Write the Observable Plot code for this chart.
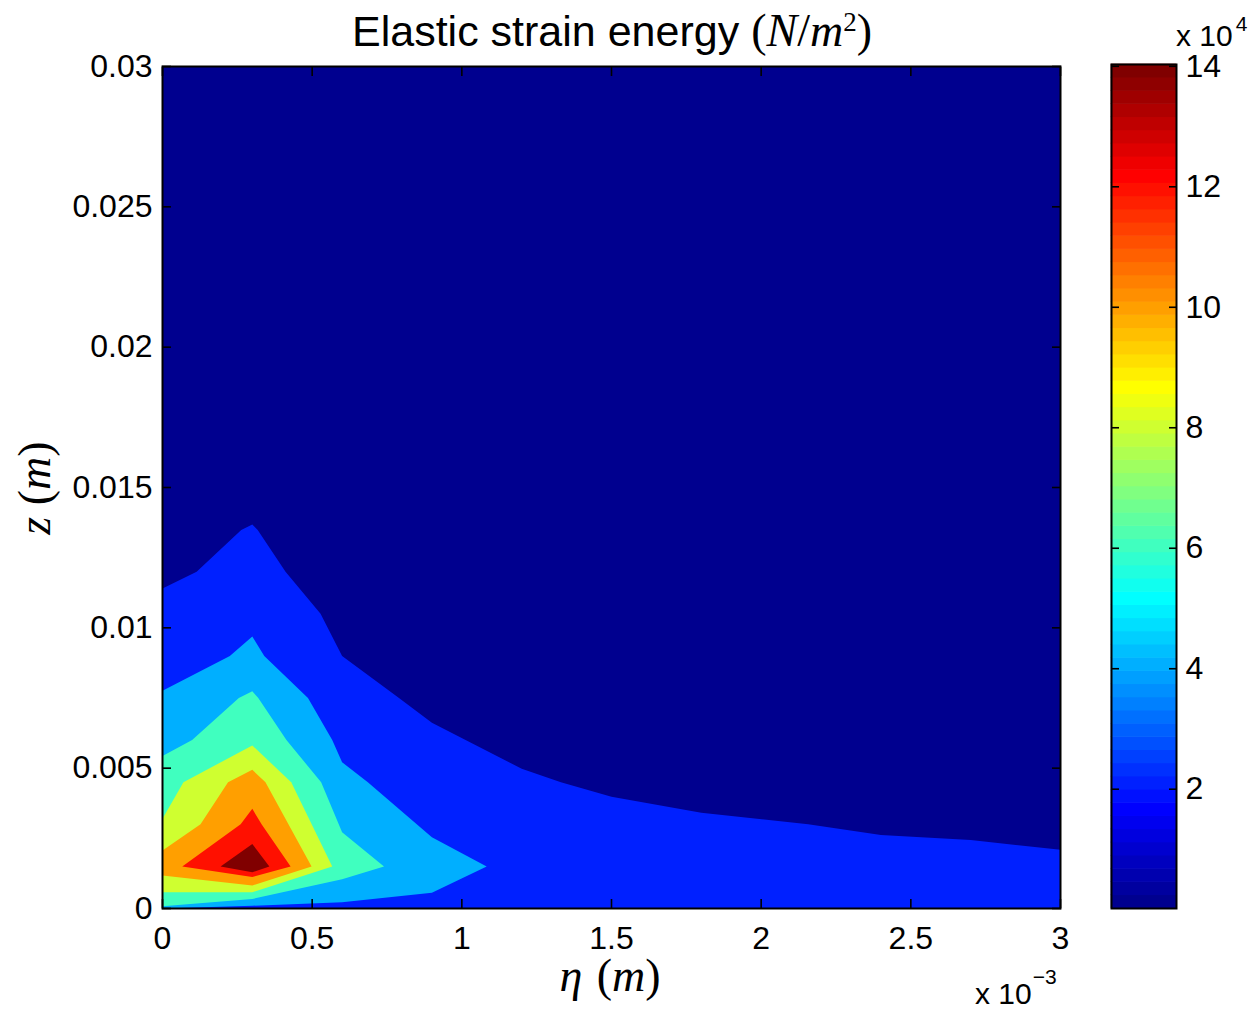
<!DOCTYPE html>
<html><head><meta charset="utf-8">
<script src="https://cdn.jsdelivr.net/npm/d3@7"></script>
<script src="https://cdn.jsdelivr.net/npm/@observablehq/plot@0.6"></script>
<style>
body{margin:0;background:#fff}
#wrap{position:relative;width:1255px;height:1009px;overflow:hidden;background:#fff}
#wrap svg{position:absolute;top:0}
</style>
</head><body><div id="wrap"></div>
<script>
// ---- axis ticks ----
const xTicks = [0, 0.5, 1, 1.5, 2, 2.5, 3];              // eta, x 10^-3 m
const yTicks = [0, 0.005, 0.01, 0.015, 0.02, 0.025, 0.03]; // z, m
const cbarTicks = [20000, 40000, 60000, 80000, 100000, 120000, 140000];

// ---- contour levels (N/m^2) ----
const cmin = 200, cmax = 140300;
const levels = [200, 20214, 40229, 60243, 80257, 100271, 120286, 140300];

// ---- filled contour regions: [eta (x10^-3 m), z (m)] boundary vertices ----
const band0 = [[0, 0], [3, 0], [3, 0.03], [0, 0.03]];
const band1 = [[0, 0.0114], [0.114, 0.0120], [0.263, 0.01349], [0.300, 0.01368], [0.318, 0.01349],
  [0.411, 0.0120], [0.528, 0.0105], [0.600, 0.0090], [0.790, 0.0075], [0.900, 0.00662],
  [1.200, 0.00498], [1.331, 0.0045], [1.500, 0.00398], [1.800, 0.00341], [2.157, 0.0030],
  [2.400, 0.00262], [2.700, 0.00244], [3.000, 0.00209], [3, 0], [0, 0]];
const band2 = [[0, 0.00776], [0.225, 0.0090], [0.300, 0.00969], [0.340, 0.0090], [0.486, 0.0075],
  [0.567, 0.0060], [0.600, 0.00521], [0.686, 0.0045], [0.900, 0.00254], [1.083, 0.0015],
  [0.900, 0.00056], [0.600, 0.00022], [0.300, 0.00010], [0, 0.00000]];
const band3 = [[0, 0.00543], [0.099, 0.0060], [0.255, 0.0075], [0.300, 0.00774], [0.320, 0.0075],
  [0.414, 0.0060], [0.530, 0.0045], [0.600, 0.00272], [0.740, 0.0015], [0.600, 0.00104],
  [0.300, 0.00034], [0, 0.00008]];
const band4 = [[0, 0.0032], [0.070, 0.0045], [0.300, 0.00581], [0.430, 0.0045], [0.567, 0.0015],
  [0.300, 0.00058], [0, 0.00058]];
const band5 = [[0, 0.00207], [0.127, 0.0030], [0.219, 0.0045], [0.300, 0.00494], [0.344, 0.0045],
  [0.498, 0.0015], [0.300, 0.00082], [0, 0.00118]];
const band6 = [[0.066, 0.0015], [0.261, 0.0030], [0.300, 0.00355], [0.331, 0.0030], [0.428, 0.0015],
  [0.300, 0.00112]];
const band7 = [[0.194, 0.0015], [0.300, 0.0023], [0.357, 0.0015], [0.300, 0.00129]];
const bands = [band0, band1, band2, band3, band4, band5, band6, band7];

// ---- MATLAB jet(64) colormap ----
function jetMap(m) {
  const n = m / 4, u = [];
  for (let i = 1; i <= n; i++) u.push(i / n);
  for (let i = 1; i < n; i++) u.push(1);
  for (let i = n; i >= 1; i--) u.push(i / n);
  const L = u.length, off = Math.ceil(n / 2);
  const get = (j) => (j >= 1 && j <= L ? u[j - 1] : 0);
  const out = [];
  for (let k = 1; k <= m; k++) {
    const g = get(k - off), r = get(k - off - n), b = get(k - off + n);
    out.push(d3.rgb(r * 255, g * 255, b * 255).formatHex());
  }
  return out;
}
const jet = jetMap(64);
const colorScale = {
  type: "linear", domain: [cmin, cmax],
  interpolate: (t) => jet[Math.max(0, Math.min(63, Math.floor(t * 64)))]
};

const rows = [];
bands.forEach((pts, i) => pts.forEach(([eta, z]) => rows.push({eta, z, level: levels[i]})));

const font = "'Liberation Sans', Arial, Helvetica, sans-serif";
const wrap = document.getElementById("wrap");

const main = Plot.plot({
  width: 1080, height: 1009,
  marginLeft: 162, marginRight: 20, marginTop: 66, marginBottom: 101,
  style: {fontFamily: font, fontSize: "32px", background: "transparent", overflow: "visible", color: "black"},
  x: {domain: [0, 3], label: null},
  y: {domain: [0, 0.03], label: null},
  color: colorScale,
  marks: [
    Plot.line(rows, {x: "eta", y: "z", z: "level", fill: "level", stroke: "none"}),
    Plot.axisX({ticks: xTicks, tickSize: 0, tickPadding: 18, tickFormat: d => String(d), label: null, fontSize: 32}),
    Plot.axisY({ticks: yTicks, tickSize: 0, tickPadding: 10, tickFormat: d => String(d), label: null, fontSize: 32}),
    Plot.axisX({ticks: xTicks, anchor: "bottom", tickSize: 9, dy: -9, tickFormat: () => "", label: null, strokeWidth: 1.6}),
    Plot.axisX({ticks: xTicks, anchor: "top", tickSize: 9, dy: 9, tickFormat: () => "", label: null, strokeWidth: 1.6}),
    Plot.axisY({ticks: yTicks, anchor: "left", tickSize: 9, dx: 9, tickFormat: () => "", label: null, strokeWidth: 1.6}),
    Plot.axisY({ticks: yTicks, anchor: "right", tickSize: 9, dx: -9, tickFormat: () => "", label: null, strokeWidth: 1.6}),
    Plot.frame({stroke: "black", strokeWidth: 2})
  ]
});
main.style.left = "0px";
wrap.appendChild(main);

// ---- colorbar ----
const nC = 64, w = (cmax - cmin) / nC;
const cells = d3.range(nC).map(k => ({y1: cmin + k * w, y2: cmin + (k + 1) * w, v: cmin + (k + 0.5) * w}));
const cbar = Plot.plot({
  width: 175, height: 1009,
  marginLeft: 31, marginRight: 79, marginTop: 64, marginBottom: 101,
  style: {fontFamily: font, fontSize: "32px", background: "transparent", overflow: "visible", color: "black"},
  x: {domain: [0, 1], axis: null},
  y: {domain: [cmin, cmax], label: null},
  color: colorScale,
  marks: [
    Plot.rect(cells, {x1: 0, x2: 1, y1: "y1", y2: "y2", fill: "v", inset: -0.3}),
    Plot.axisY({ticks: cbarTicks, anchor: "right", tickSize: 0, tickPadding: 9, tickFormat: d => String(d / 1e4), label: null, fontSize: 32}),
    Plot.axisY({ticks: cbarTicks, anchor: "left", tickSize: 8, dx: 8, tickFormat: () => "", label: null, strokeWidth: 1.6}),
    Plot.axisY({ticks: cbarTicks, anchor: "right", tickSize: 8, dx: -8, tickFormat: () => "", label: null, strokeWidth: 1.6}),
    Plot.frame({stroke: "black", strokeWidth: 2})
  ]
});
cbar.style.left = "1080px";
wrap.appendChild(cbar);

// ---- text annotations ----
const serif = "'Liberation Serif', 'DejaVu Serif', serif";
const ov = d3.select(wrap).append("svg")
  .attr("width", 1255).attr("height", 1009)
  .style("left", "0px").style("pointer-events", "none");

const t = ov.append("text").attr("x", 612).attr("y", 46).attr("text-anchor", "middle");
t.append("tspan").attr("font-family", font).attr("font-size", 43).text("Elastic strain energy\u00A0");
const tm = (s, it) => t.append("tspan").attr("font-family", serif).attr("font-size", 46)
  .attr("font-style", it ? "italic" : "normal").text(s);
tm("(", false); tm("N", true); tm("/", false); tm("m", true);
t.append("tspan").attr("font-family", serif).attr("font-size", 27).attr("dy", -15).text("2");
t.append("tspan").attr("font-family", serif).attr("font-size", 46).attr("dy", 15).text(")");

const xl = ov.append("text").attr("x", 610).attr("y", 991).attr("text-anchor", "middle")
  .attr("font-family", serif).attr("font-size", 46);
xl.append("tspan").attr("font-style", "italic").text("η\u00A0");
xl.append("tspan").attr("dx", 3).text("(");
xl.append("tspan").attr("font-style", "italic").text("m");
xl.append("tspan").text(")");

const yl = ov.append("text").attr("transform", "translate(50,488) rotate(-90)").attr("text-anchor", "middle")
  .attr("font-family", serif).attr("font-size", 46);
yl.append("tspan").attr("font-style", "italic").text("z\u00A0");
yl.append("tspan").text("(");
yl.append("tspan").attr("font-style", "italic").text("m");
yl.append("tspan").text(")");

const ex = ov.append("text").attr("x", 975).attr("y", 1004).attr("font-family", font).attr("font-size", 30);
ex.append("tspan").text("x 10");
ex.append("tspan").attr("font-size", 21).attr("dy", -20).attr("dx", 1).text("\u22123");

const ec = ov.append("text").attr("x", 1176).attr("y", 46).attr("font-family", font).attr("font-size", 30);
ec.append("tspan").text("x 10");
ec.append("tspan").attr("font-size", 21).attr("dy", -15).attr("dx", 3).text("4");
</script>
</body></html>
